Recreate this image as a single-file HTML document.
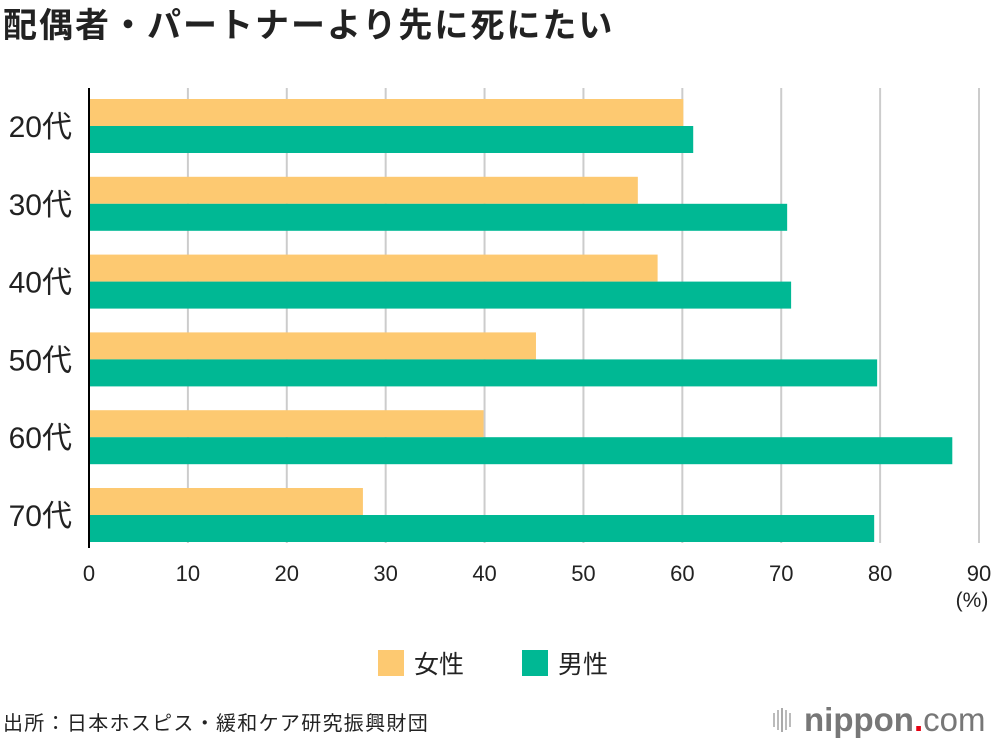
<!DOCTYPE html>
<html><head><meta charset="utf-8"><style>
body{margin:0;width:1000px;height:744px;background:#fff;overflow:hidden;font-family:"Liberation Sans","Noto Sans CJK JP",sans-serif;}
</style></head><body>
<svg id="c" width="1000" height="744" xmlns="http://www.w3.org/2000/svg">
<text x="3" y="37" font-size="34" letter-spacing="2" font-weight="bold" fill="#222" font-family="Liberation Sans, Noto Sans CJK JP, sans-serif">配偶者・パートナーより先に死にたい</text>
<g id="grid"></g><g id="bars"></g><g id="axis"></g>
<g>
<rect x="378" y="650" width="26" height="26" fill="#FDC971"/>
<text x="414" y="673" font-size="25" fill="#222" font-family="Liberation Sans, Noto Sans CJK JP, sans-serif">女性</text>
<rect x="522" y="650" width="26" height="26" fill="#00B894"/>
<text x="558" y="673" font-size="25" fill="#222" font-family="Liberation Sans, Noto Sans CJK JP, sans-serif">男性</text>
</g>
<text x="3" y="730" font-size="20" letter-spacing="1.3" fill="#222" font-family="Liberation Sans, Noto Sans CJK JP, sans-serif">出所：日本ホスピス・緩和ケア研究振興財団</text>
<g>
<rect x="773" y="713" width="2" height="14" fill="#bbb"/><rect x="777" y="710" width="2" height="20" fill="#bbb"/><rect x="781" y="708" width="2" height="24" fill="#aaa"/><rect x="785" y="710" width="2" height="20" fill="#bbb"/><rect x="789" y="713" width="2" height="14" fill="#bbb"/>
<text x="804" y="731" font-size="33" fill="#777" font-weight="bold">nippon<tspan fill="#e60012">.</tspan><tspan font-weight="normal">com</tspan></text>
</g>
</svg>
<script>
const categories=["20代","30代","40代","50代","60代","70代"];
const female=[60.1,55.5,57.5,45.2,39.9,27.7];
const male=[61.1,70.6,71.0,79.7,87.3,79.4];
const ticks=[0,10,20,30,40,50,60,70,80,90];
const NS="http://www.w3.org/2000/svg";
const x0=89,x1=979,xmax=90;
const xs=v=>x0+(x1-x0)*v/xmax;
const gTop=99,pitch=77.8,bh=27;
function mk(t,a,p){const e=document.createElementNS(NS,t);for(const k in a)e.setAttribute(k,a[k]);p.appendChild(e);return e;}
const grid=document.getElementById('grid'),bars=document.getElementById('bars'),axis=document.getElementById('axis');
ticks.forEach(t=>{
 if(t>0){const l=mk('line',{x1:xs(t),x2:xs(t),y1:88,y2:543,stroke:'#ccc','stroke-width':2},grid);
 
 }
 const tx=mk('text',{x:xs(t),y:581,'font-size':22,'text-anchor':'middle',fill:'#222'},axis);tx.textContent=t;
 
 
});
const pc=mk('text',{x:xs(90)-7,y:607,'font-size':21,'text-anchor':'middle',fill:'#222'},axis);pc.textContent='(%)';


categories.forEach((c,i)=>{
 const y=gTop+i*pitch;
 const f=mk('rect',{x:x0,y:y,width:xs(female[i])-x0,height:bh,fill:'#FDC971'},bars);
 
 
 const m=mk('rect',{x:x0,y:y+bh,width:xs(male[i])-x0,height:bh,fill:'#00B894'},bars);
 
 
 const t=mk('text',{x:72,y:y+bh+11,'font-size':30,'text-anchor':'end',fill:'#222'},axis);t.textContent=c;
 
 
});
const ax=mk('line',{x1:x0,x2:x0,y1:88,y2:548,stroke:'#000','stroke-width':2},axis);


</script>
</body></html>
